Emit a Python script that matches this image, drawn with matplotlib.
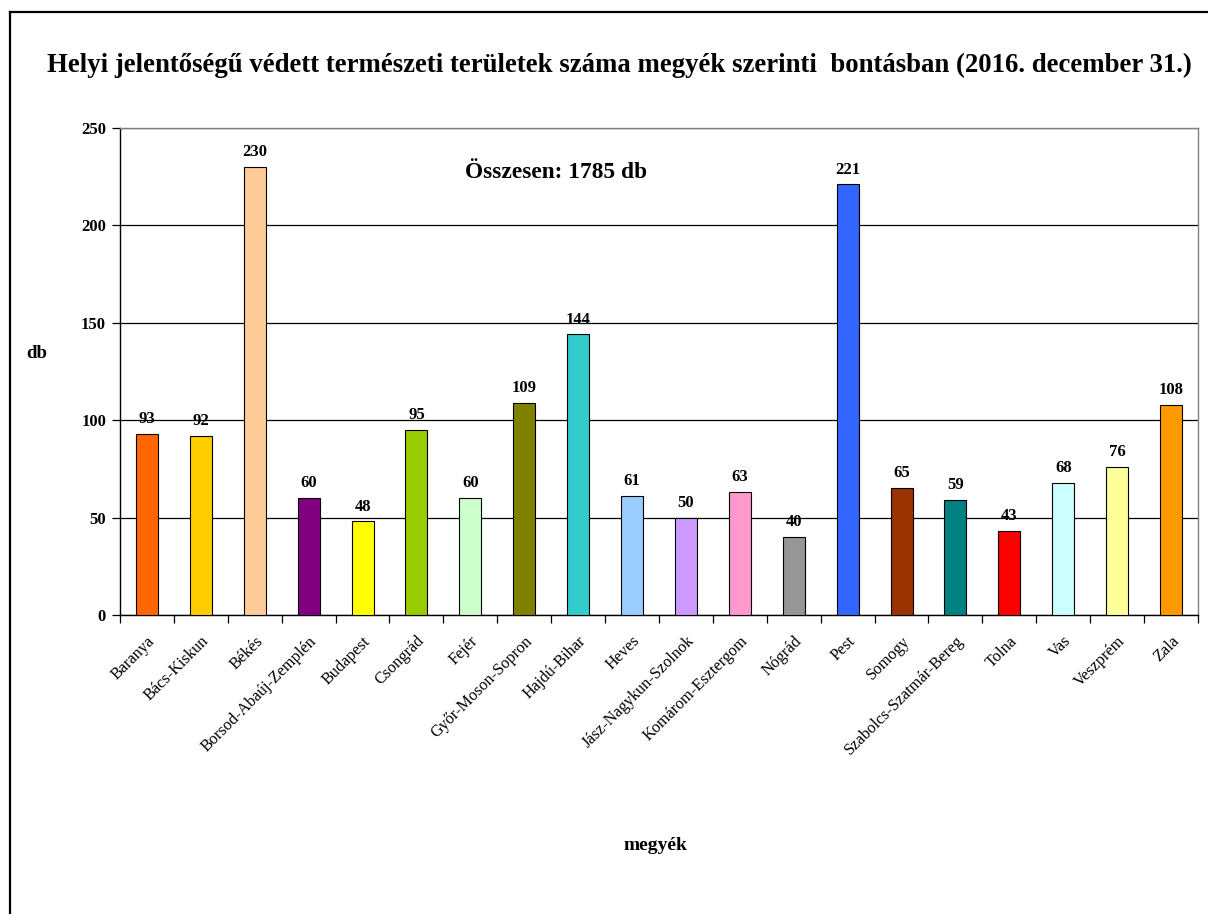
import matplotlib
matplotlib.use("Agg")
import matplotlib.pyplot as plt
from matplotlib.lines import Line2D
import numpy as np

# --- data ---
megyek = ["Baranya", "Bács-Kiskun", "Békés", "Borsod-Abaúj-Zemplén", "Budapest",
          "Csongrád", "Fejér", "Győr-Moson-Sopron", "Hajdú-Bihar", "Heves",
          "Jász-Nagykun-Szolnok", "Komárom-Esztergom", "Nógrád", "Pest", "Somogy",
          "Szabolcs-Szatmár-Bereg", "Tolna", "Vas", "Veszprém", "Zala"]
darab = [93, 92, 230, 60, 48, 95, 60, 109, 144, 61, 50, 63, 40, 221, 65, 59, 43, 68, 76, 108]
szinek = ["#FF6600", "#FFCC00", "#FFCC99", "#800080", "#FFFF00", "#99CC00", "#CCFFCC",
          "#808000", "#33CCCC", "#99CCFF", "#CC99FF", "#FF99CC", "#969696", "#3366FF",
          "#993300", "#008080", "#FF0000", "#CCFFFF", "#FFFF99", "#FF9900"]
y_ticks = [0, 50, 100, 150, 200, 250]

plt.rcParams["font.family"] = "Liberation Serif"

W, H = 1208, 914
fig = plt.figure(figsize=(W / 100, H / 100), dpi=100)
ax = fig.add_axes([120 / W, 1 - 615 / H, (1198 - 120) / W, (615 - 128) / H])

x = np.arange(len(megyek))
ax.bar(x, darab, width=0.41, color=szinek, edgecolor="black", linewidth=0.8, zorder=3)
for xi, v in zip(x, darab):
    ax.annotate(str(v), (xi, v), textcoords="offset points", xytext=(0, 5),
                ha="center", va="bottom", fontsize=12, fontweight="bold")

ax.set_xlim(-0.5, len(megyek) - 0.5)
ax.set_ylim(0, 250)
ax.set_yticks(y_ticks)
ax.set_yticklabels([str(t) for t in y_ticks], fontsize=12, fontweight="bold")
ax.grid(axis="y", color="black", linewidth=0.9, zorder=0)
ax.set_axisbelow(True)

# category boundaries get the tick marks, names sit at the centres
ax.set_xticks(np.arange(len(megyek) + 1) - 0.5)
ax.set_xticklabels([])
ax.set_xticks(x, minor=True)
ax.set_xticklabels(megyek, minor=True, rotation=45, ha="right",
                   rotation_mode="anchor", fontsize=11.7)
ax.tick_params(axis="x", which="major", direction="out", length=6, width=0.9)
ax.tick_params(axis="x", which="minor", length=0, pad=13)
ax.tick_params(axis="y", direction="out", length=6, width=0.9, pad=4)

for s in ["left", "bottom"]:
    ax.spines[s].set_color("black")
    ax.spines[s].set_linewidth(1.0)
for s in ["top", "right"]:
    ax.spines[s].set_color("#808080")
    ax.spines[s].set_linewidth(1.0)

ax.text((556 - 120) / 1078, (615 - 172) / 487, "Összesen: 1785 db", transform=ax.transAxes,
        ha="center", va="center", fontsize=16.8, fontweight="bold")

fig.text(619 / W, 1 - 65 / H,
         "Helyi jelentőségű védett természeti területek száma megyék szerinti  bontásban (2016. december 31.)",
         ha="center", va="center", fontsize=19.3, fontweight="bold")
fig.text(37 / W, 1 - 353 / H, "db", ha="center", va="center", fontsize=13.5, fontweight="bold")
fig.text(655 / W, 1 - 846 / H, "megyék", ha="center", va="center", fontsize=14, fontweight="bold")

# outer frame (left and top visible)
fig.add_artist(Line2D([10 / W, 10 / W], [0, 1 - 12 / H], color="black", linewidth=1.6,
                      transform=fig.transFigure))
fig.add_artist(Line2D([10 / W, 1], [1 - 12 / H, 1 - 12 / H], color="black", linewidth=1.6,
                      transform=fig.transFigure))

fig.savefig("out.png", dpi=100)
